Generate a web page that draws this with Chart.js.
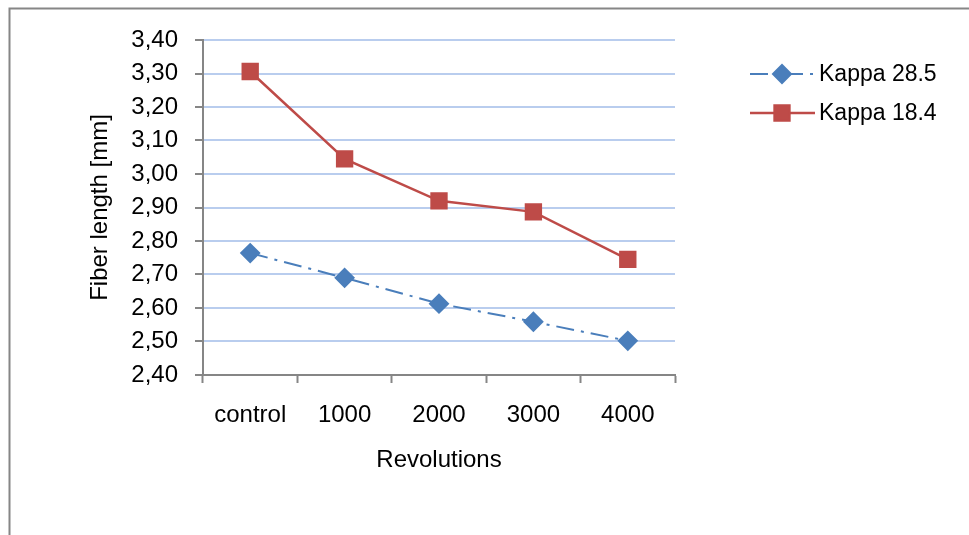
<!DOCTYPE html>
<html>
<head>
<meta charset="utf-8">
<script src="https://cdn.jsdelivr.net/npm/chart.js@4/dist/chart.umd.min.js"></script>
<style>
  html, body { margin: 0; padding: 0; background: #fff; }
  #wrap { width: 969px; height: 535px; position: relative; }
</style>
</head>
<body>
<div id="wrap"><canvas id="fiberChart" width="969" height="535"></canvas></div>
<script>
const revolutions = ['control', '1000', '2000', '3000', '4000'];
const kappa285 = [2.764, 2.690, 2.613, 2.559, 2.502];
const kappa184 = [3.306, 3.045, 2.920, 2.887, 2.745];
const yTicks = [2.4, 2.5, 2.6, 2.7, 2.8, 2.9, 3.0, 3.1, 3.2, 3.3, 3.4];

const FONT = '"Liberation Sans", Arial, sans-serif';
const axisGray = '#868686';

// legend drawn on the right, line + marker like the office style
const sideLegend = {
    id: 'sideLegend',
    afterDraw(chart) {
        const ctx = chart.ctx;
        chart.data.datasets.forEach((ds, i) => {
            const y = 74 + i * 39;
            ctx.save();
            ctx.strokeStyle = ds.borderColor;
            ctx.lineWidth = ds.borderWidth;
            ctx.setLineDash(ds.borderDash || []);
            ctx.beginPath();
            ctx.moveTo(750, y);
            ctx.lineTo(815, y);
            ctx.stroke();
            ctx.setLineDash([]);
            ctx.fillStyle = ds.pointBackgroundColor;
            ctx.strokeStyle = ds.pointBackgroundColor;
            Chart.helpers.drawPoint(ctx, {
                pointStyle: ds.pointStyle,
                radius: ds.pointRadius,
                rotation: 0,
                borderWidth: 1
            }, 782, y);
            ctx.fillStyle = '#000';
            ctx.font = '23px ' + FONT;
            ctx.textBaseline = 'middle';
            ctx.fillText(ds.label, 819, y + 1);
            ctx.restore();
        });
    }
};

// outer frame of the chart object
const frame = {
    id: 'frame',
    beforeDraw(chart) {
        const ctx = chart.ctx;
        ctx.save();
        ctx.strokeStyle = axisGray;
        ctx.lineWidth = 2;
        ctx.strokeRect(9.5, 8.5, 1000, 600);
        ctx.restore();
    }
};

new Chart(document.getElementById('fiberChart'), {
    type: 'line',
    data: {
        labels: revolutions,
        datasets: [
            {
                label: 'Kappa 28.5',
                data: kappa285,
                borderColor: '#4a7ebb',
                borderWidth: 2,
                borderDash: [18, 7, 3, 7],
                pointStyle: 'rectRot',
                pointRadius: 9,
                pointBackgroundColor: '#4a7ebb',
                pointBorderColor: '#4a7ebb',
                tension: 0
            },
            {
                label: 'Kappa 18.4',
                data: kappa184,
                borderColor: '#be4b48',
                borderWidth: 2.5,
                pointStyle: 'rect',
                pointRadius: 10.5,
                pointBackgroundColor: '#be4b48',
                pointBorderColor: '#be4b48',
                tension: 0
            }
        ]
    },
    options: {
        responsive: false,
        animation: false,
        layout: { padding: { top: 40, right: 294, left: 0, bottom: 0 } },
        plugins: {
            legend: { display: false },
            tooltip: { enabled: false }
        },
        scales: {
            x: {
                offset: true,
                afterFit: (scale) => { scale.height = 160; },
                grid: {
                    offset: true,
                    drawOnChartArea: false,
                    drawTicks: true,
                    tickLength: 8,
                    tickColor: axisGray,
                    tickWidth: 2
                },
                border: { color: axisGray, width: 2 },
                ticks: {
                    color: '#000',
                    font: { family: FONT, size: 24 },
                    padding: 18,
                    maxRotation: 0
                },
                title: {
                    display: true,
                    text: 'Revolutions',
                    color: '#000',
                    font: { family: FONT, size: 24 },
                    padding: { top: 0, bottom: 60 }
                }
            },
            y: {
                min: 2.4,
                max: 3.4,
                afterFit: (scale) => { scale.width = 203; },
                afterBuildTicks: (scale) => {
                    scale.ticks = yTicks.map(v => ({ value: v }));
                },
                grid: {
                    color: '#b9cdee',
                    lineWidth: 2,
                    drawTicks: true,
                    tickLength: 8,
                    tickColor: axisGray,
                    tickWidth: 2
                },
                border: { color: axisGray, width: 2 },
                ticks: {
                    color: '#000',
                    font: { family: FONT, size: 24 },
                    padding: 17,
                    callback: (v) => Number(v).toFixed(2).replace('.', ',')
                },
                title: {
                    display: true,
                    text: 'Fiber length [mm]',
                    color: '#000',
                    font: { family: FONT, size: 24 },
                    padding: { top: 86, bottom: 0 }
                }
            }
        }
    },
    plugins: [frame, sideLegend]
});
</script>
</body>
</html>
